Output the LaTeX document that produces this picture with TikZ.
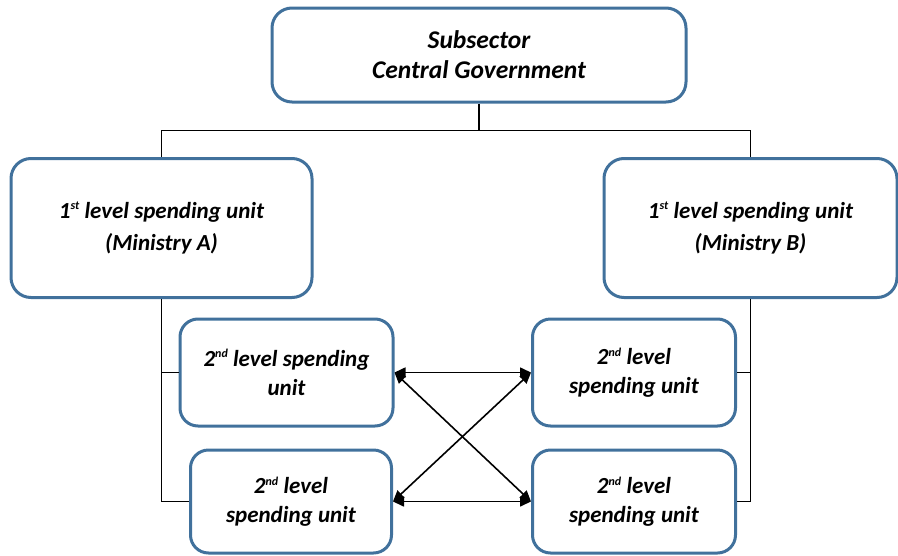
\documentclass[tikz,border=0pt]{standalone}
\usepackage{fontspec}
\setmainfont{Carlito}
\usetikzlibrary{arrows.meta}
\definecolor{boxblue}{RGB}{65,113,156}
\newcommand{\ordsup}[1]{\raisebox{0.75ex}{\fontsize{12}{12}\selectfont #1}}

\begin{document}
\begin{tikzpicture}[x=1pt,y=-1pt,
    unitbox/.style={draw=boxblue,line width=3pt,rounded corners=20pt,align=center,
        font=\fontsize{23}{29}\selectfont\bfseries\itshape,inner sep=0pt},
    link/.style={line width=1.6pt},
    flow/.style={line width=1.6pt,{Triangle[length=11pt,width=10pt]}-{Triangle[length=11pt,width=10pt]}}]
\useasboundingbox (0,0) rectangle (898,555);

% Central government
\node[unitbox,minimum width=414pt,minimum height=94pt,
      font=\fontsize{25.5}{30}\selectfont\bfseries\itshape] (top) at (479,55)
      {Subsector\\Central Government};

% First level
\node[unitbox,minimum width=301pt,minimum height=139pt] (minA) at (161.5,228)
      {1\ordsup{st} level spending unit\\[3pt](Ministry A)};
\node[unitbox,minimum width=293pt,minimum height=139pt] (minB) at (750.5,228)
      {1\ordsup{st} level spending unit\\[3pt](Ministry B)};

% Second level
\node[unitbox,minimum width=213pt,minimum height=107pt,rounded corners=18pt] (unitA1) at (286.5,372.5)
      {2\ordsup{nd} level spending\\unit};
\node[unitbox,minimum width=201pt,minimum height=103pt,rounded corners=18pt] (unitA2) at (291,501.5)
      {2\ordsup{nd} level\\spending unit};
\node[unitbox,minimum width=203pt,minimum height=107pt,rounded corners=18pt] (unitB1) at (634,372.5)
      {2\ordsup{nd} level\\spending unit};
\node[unitbox,minimum width=203pt,minimum height=103pt,rounded corners=18pt] (unitB2) at (634,501.5)
      {2\ordsup{nd} level\\spending unit};

% Tree lines
\coordinate (bus) at (479,130.5);
\draw[link] (top.south) -- (bus);
\draw[link] (bus) -| (minA.north);
\draw[link] (bus) -| (minB.north);
\foreach \u in {A1,A2} \draw[link] (minA.south) |- (unit\u.west);
\foreach \u in {B1,B2} \draw[link] (minB.south) |- (unit\u.east);

% Links between units
\draw[flow] (unitA1.east) -- (unitB1.west);
\draw[flow] (unitA2.east) -- (unitB2.west);
\draw[flow] (unitA1.east) -- (unitB2.west);
\draw[flow] (unitA2.east) -- (unitB1.west);
\end{tikzpicture}
\end{document}
